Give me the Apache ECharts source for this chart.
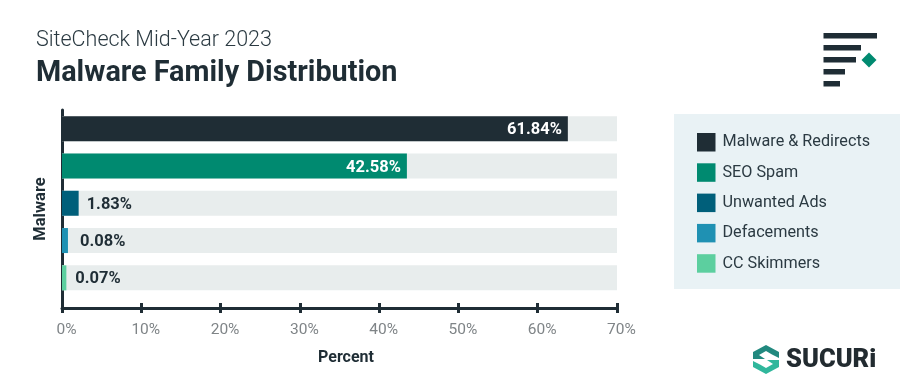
<!DOCTYPE html>
<html><head><meta charset="utf-8">
<style>html,body{margin:0;padding:0;background:#fff}#c{width:900px;height:384px}</style>
<script src="https://cdn.jsdelivr.net/npm/echarts@6/dist/echarts.min.js"></script>
</head><body><div id="c"></div>
<script>
const families = ['Malware & Redirects','SEO Spam','Unwanted Ads','Defacements','CC Skimmers'];
const barLengths = [63.8,43.5,2.1,0.75,0.55];
const valueLabels = ['61.84%','42.58%','1.83%','0.08%','0.07%'];
const labelGaps = [6,6,8,12,9];
const colors = ['#1f2d35','#008a70','#005f7a','#1f91b3','#5ccf9f'];
const font = 'Roboto, "Open Sans", sans-serif';
const ink = '#1f2d35';
const chart = echarts.init(document.getElementById('c'), null, {renderer:'canvas'});
const series = families.map((name,i)=>({
  name, type:'bar', stack:'all', xAxisIndex:0, yAxisIndex:0, barWidth:25, silent:true,
  showBackground: i===0, backgroundStyle:{color:'#e8eded'},
  itemStyle:{color:colors[i]},
  data: families.map((f,j)=> j===i ? {value:barLengths[i], label:{
    show:true,
    position: barLengths[i]>10 ? 'insideRight':'right',
    distance: labelGaps[i],
    offset:[0,1.5],
    formatter: valueLabels[i],
    color: barLengths[i]>10 ? '#fff' : ink,
    fontFamily:font, fontWeight:700, fontSize:16.5
  }} : null)
}));
const bar=(x,y,w)=>({type:'rect',shape:{x,y,width:w,height:5.5},style:{fill:ink},silent:true});
chart.setOption({
  animation:false,
  backgroundColor:'#fff',
  title:[
    {text:'SiteCheck Mid-Year 2023',left:31,top:25,textStyle:{fontFamily:font,fontWeight:300,fontSize:21.5,color:'#2b3a42'}},
    {text:'Malware Family Distribution',left:31,top:54,textStyle:{fontFamily:font,fontWeight:700,fontSize:28.8,color:ink}}
  ],
  legend:{data:families,orient:'vertical',left:692,top:128,itemWidth:18.5,itemHeight:18.5,itemGap:11.8,icon:'rect',selectedMode:false,
    textStyle:{fontFamily:font,fontSize:16.2,color:'#2b3a42',padding:[0,0,0,2]}},
  grid:[
    {left:62,right:283,top:110,height:186.5},
    {left:62,right:283,top:110,height:198}
  ],
  xAxis:[
    {gridIndex:0,type:'value',min:0,max:70,show:false},
    {gridIndex:1,type:'value',min:0,max:70,interval:10,position:'bottom',
     name:'Percent',nameLocation:'middle',nameGap:42,
     nameTextStyle:{fontFamily:font,fontWeight:700,fontSize:16,color:ink,padding:[0,0,0,13]},
     axisLine:{show:true,lineStyle:{color:ink,width:3}},
     axisTick:{show:true,length:5,lineStyle:{color:ink,width:3}},
     splitLine:{show:false},
     axisLabel:{formatter:'{value}%',margin:14,padding:[0,0,0,9],fontFamily:font,fontSize:15.5,color:'#7f8487',
       showMinLabel:true,showMaxLabel:true}},
    {gridIndex:1,type:'value',min:0,max:70,interval:10,position:'bottom',
     axisLine:{show:false},axisLabel:{show:false},splitLine:{show:false},
     axisTick:{show:true,inside:true,length:5,lineStyle:{color:ink,width:3}}}
  ],
  yAxis:[
    {gridIndex:0,type:'category',inverse:true,data:families,show:false},
    {gridIndex:1,type:'value',min:0,max:1,show:true,name:'Malware',nameLocation:'middle',nameGap:13,nameRotate:90,
     nameTextStyle:{fontFamily:font,fontWeight:700,fontSize:16.5,color:ink},
     axisLine:{show:true,lineStyle:{color:ink,width:3}},axisTick:{show:false},axisLabel:{show:false},splitLine:{show:false}}
  ],
  series,
  graphic:[
    {type:'rect',z:-1,shape:{x:674,y:114,width:226,height:175},style:{fill:'#e9f2f5'},silent:true},
    bar(823.5,33,53.5),bar(823.5,45,37.5),bar(823.5,57,32.5),bar(823.5,69,21.5),bar(823.5,81,16.5),
    {type:'polygon',shape:{points:[[869,52.5],[876.5,60],[869,67.5],[861.5,60]]},style:{fill:'#008a70'},silent:true},
    {type:'polygon',shape:{points:[[766,345],[779,352],[779,358],[772,354.5],[766,351],[759,355],[765,359],[753,359],[753,352]]},style:{fill:'#22897f'},silent:true},
    {type:'polygon',shape:{points:[[766,374],[753,367],[753,361],[760,364.5],[766,368],[773,364],[767,360],[779,360],[779,367]]},style:{fill:'#30b79c'},silent:true},
    {type:'text',style:{x:786,y:348,text:'SUCURi',fontFamily:font,fontWeight:900,fontSize:25.5,fill:'#222b30'},silent:true}
  ]
});
</script></body></html>
